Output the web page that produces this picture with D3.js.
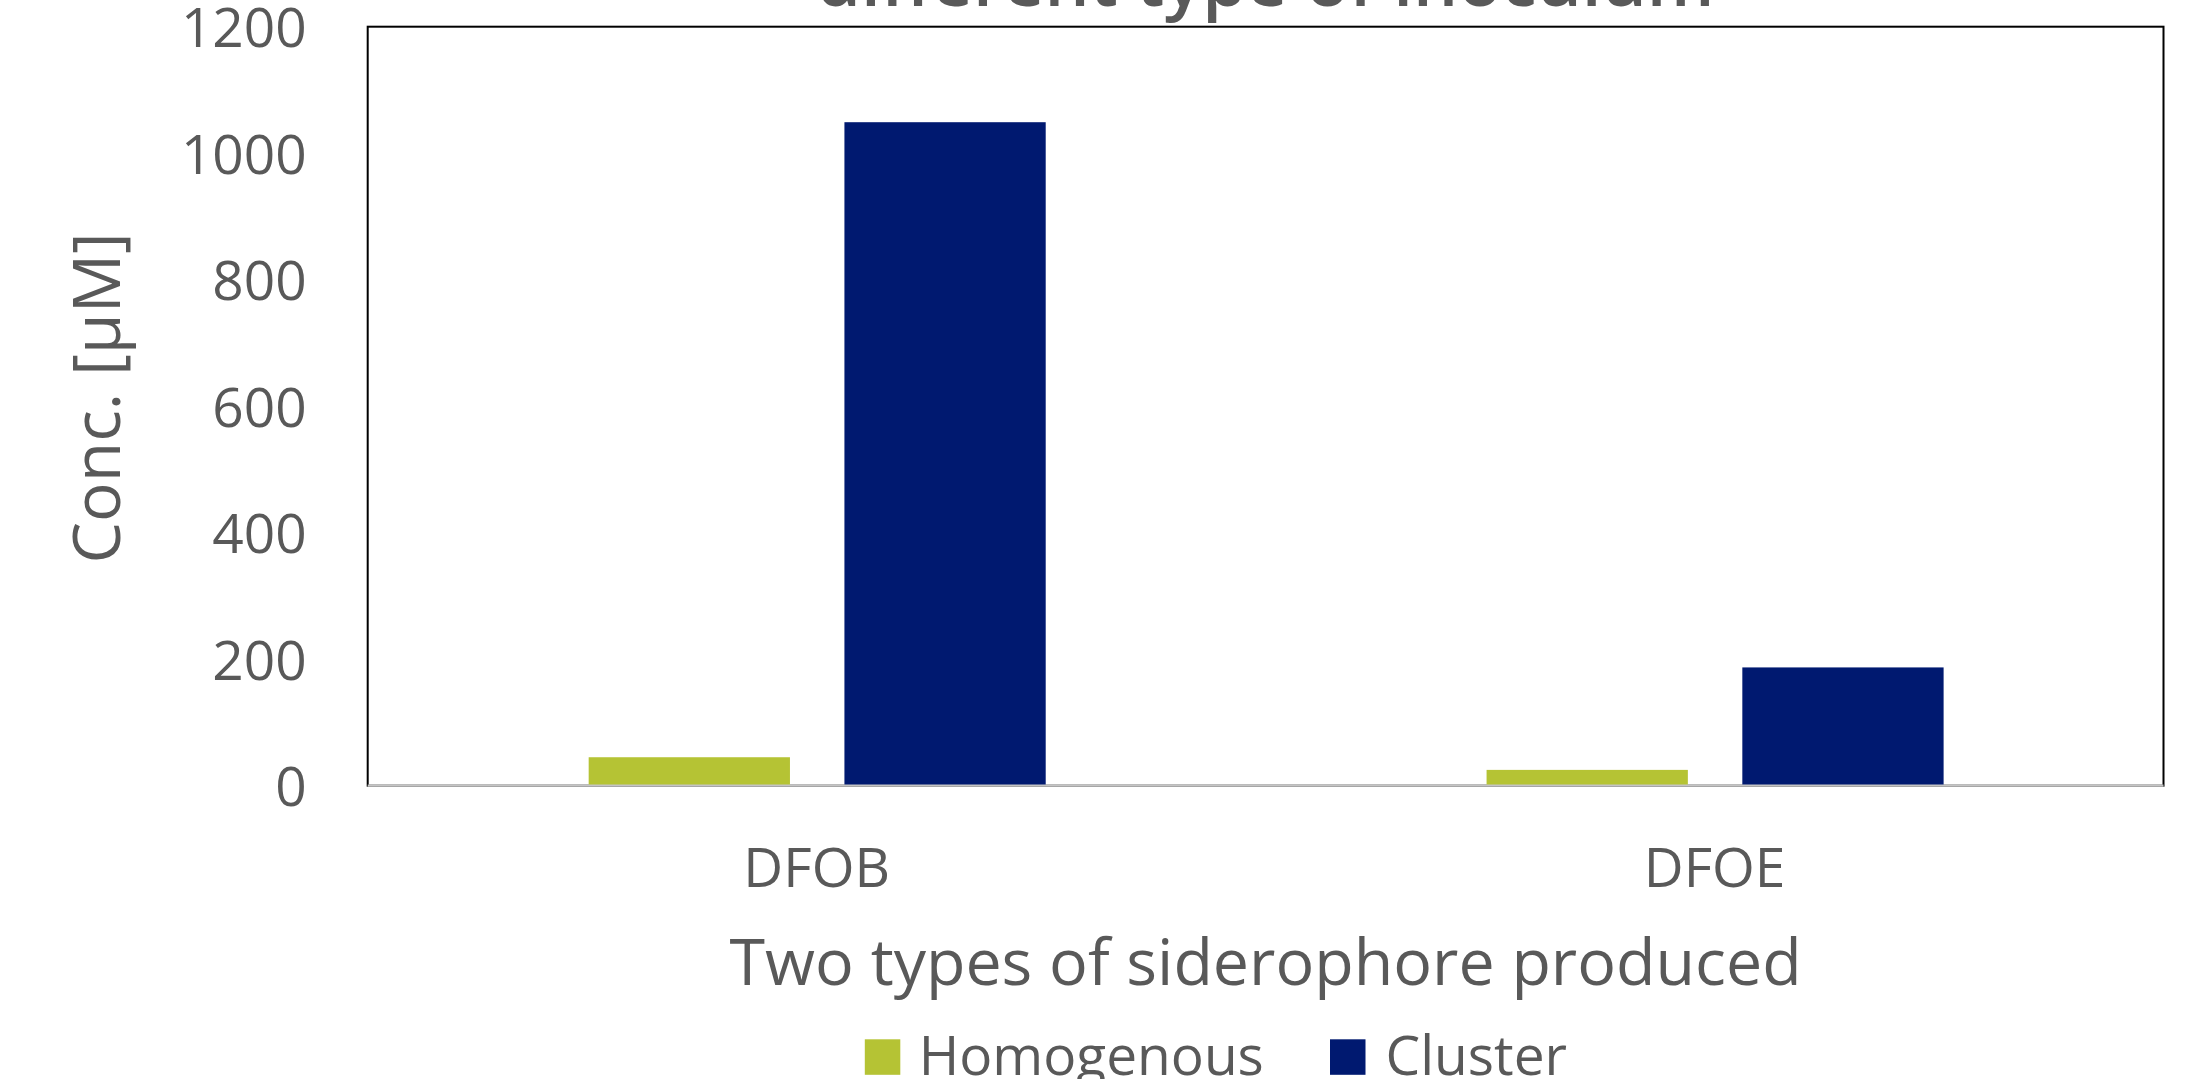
<!DOCTYPE html>
<html><head><meta charset="utf-8">
<script src="https://cdn.jsdelivr.net/npm/d3@7"></script>
<style>html,body{margin:0;padding:0;background:#fff;overflow:hidden}</style>
</head><body><svg id="c" width="2195" height="1079"></svg>
<script>
const categories = ["DFOB", "DFOE"];
const seriesNames = ["Homogenous", "Cluster"];
const homogenous = [45, 25];
const cluster = [1049, 187];
const yTicks = [0, 200, 400, 600, 800, 1000, 1200];
const titleText = "different type of inoculum";
const xTitleText = "Two types of siderophore produced";
const yTitleText = "Conc. [µM]";
const colors = ["#b5c334", "#001970"];

const W = 2195, H = 1079;
const plot = {left: 367.7, right: 2163.5, top: 26.7, bottom: 785.7};
const font = "'Open Sans', 'Noto Sans', sans-serif";
const textColor = "#595959";

const svg = d3.select("#c");
svg.append("rect").attr("width", W).attr("height", H).attr("fill", "#fff");

const x0 = d3.scaleBand().domain(categories).range([plot.left, plot.right]).paddingInner(0).paddingOuter(0);
const bw = x0.bandwidth();
const x1 = d3.scaleBand().domain(seriesNames).range([bw * 0.2461, bw * 0.7551]).paddingInner(0.213).paddingOuter(0);
const y = d3.scaleLinear().domain([0, 1200]).range([plot.bottom, plot.top]);

const data = categories.map((c, i) => ({cat: c, vals: [homogenous[i], cluster[i]]}));

// title (clipped at top)
svg.append("text").attr("x", (plot.left + plot.right) / 2).attr("y", 6)
  .attr("text-anchor", "middle").attr("font-family", font).attr("font-size", 71)
  .attr("font-weight", 600).attr("fill", textColor).text(titleText);

// plot border
svg.append("rect").attr("x", plot.left).attr("y", plot.top)
  .attr("width", plot.right - plot.left).attr("height", plot.bottom - plot.top)
  .attr("fill", "#fff").attr("stroke", "#000").attr("stroke-width", 2);

// bars
const g = svg.append("g");
data.forEach(d => {
  g.selectAll(null).data(d.vals.map((v, j) => ({s: seriesNames[j], v, j}))).enter()
    .append("rect")
    .attr("x", e => x0(d.cat) + x1(e.s))
    .attr("width", x1.bandwidth())
    .attr("y", e => y(e.v))
    .attr("height", e => y(0) - y(e.v))
    .attr("fill", e => colors[e.j]);
});

// x axis line
svg.append("line").attr("x1", plot.left).attr("x2", plot.right)
  .attr("y1", plot.bottom).attr("y2", plot.bottom)
  .attr("stroke", "#c4c4c4").attr("stroke-width", 2.2);

// y axis labels via d3 axis
const yAxis = d3.axisLeft(y).tickValues(yTicks).tickSize(0).tickPadding(0).tickFormat(d3.format("d"));
const ya = svg.append("g").attr("transform", `translate(306.7,0)`).call(yAxis);
ya.select(".domain").remove();
ya.selectAll("text").attr("font-family", font).attr("font-size", 55).attr("fill", textColor)
  .attr("dy", "0.36em").attr("x", 0);

// x axis labels via d3 axis
const xAxis = d3.axisBottom(x0).tickSize(0).tickPadding(0);
const xa = svg.append("g").call(xAxis);
xa.select(".domain").remove();
xa.selectAll("text").attr("font-family", font).attr("font-size", 55).attr("fill", textColor)
  .attr("dy", null).attr("y", 887.3);

// axis titles
svg.append("text").attr("x", (plot.left + plot.right) / 2).attr("y", 985)
  .attr("text-anchor", "middle").attr("font-family", font).attr("font-size", 64.5)
  .attr("fill", textColor).text(xTitleText);
svg.append("text").attr("transform", "translate(120,398) rotate(-90)")
  .attr("text-anchor", "middle").attr("font-family", font).attr("font-size", 66)
  .attr("fill", textColor).text(yTitleText);

// legend
const legendX = [864.8, 1330];
const legendTextX = [918.7, 1385.6];
seriesNames.forEach((s, i) => {
  svg.append("rect").attr("x", legendX[i]).attr("y", 1039.3).attr("width", 35.5).attr("height", 35.5)
    .attr("fill", colors[i]);
  svg.append("text").attr("x", legendTextX[i]).attr("y", 1074.7)
    .attr("font-family", font).attr("font-size", 55).attr("fill", textColor).text(s);
});
</script></body></html>
